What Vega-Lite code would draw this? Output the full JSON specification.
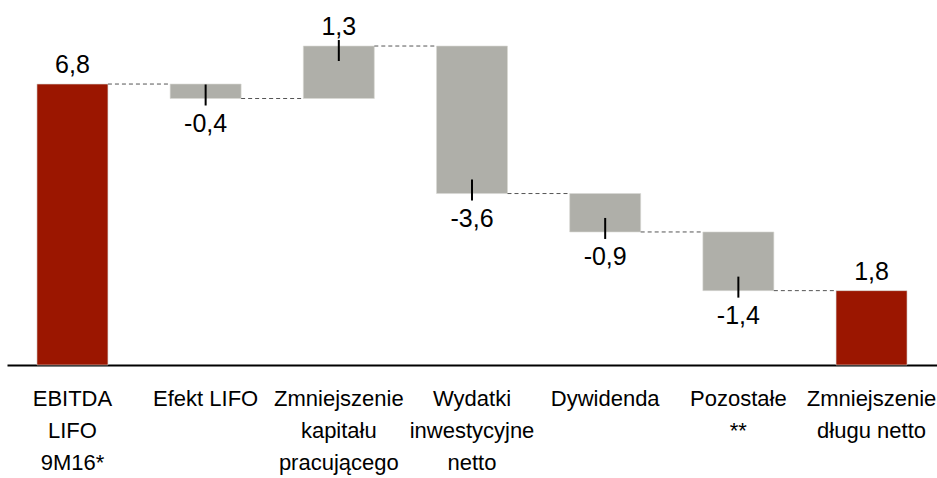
{
  "$schema": "https://vega.github.io/schema/vega-lite/v6.json",
  "autosize": {"type": "none"},
  "padding": {"left": 7, "top": 20, "right": 0, "bottom": 113},
  "width": 930,
  "height": 345,
  "background": "white",
  "title": {"text": "mld PLN", "anchor": "start", "frame": "group", "offset": 15, "baseline": "alphabetic", "fontSize": 24, "fontWeight": "normal", "font": "Liberation Sans", "color": "black", "dx": 3},
  "config": {"view": {"stroke": null}, "text": {"font": "Liberation Sans"}},
  "data": {"values": [
    {"cat": "EBITDA|LIFO|9M16*", "start": 0, "end": 6.8, "kind": "total", "label": "6,8", "next": "Efekt LIFO"},
    {"cat": "Efekt LIFO", "start": 6.8, "end": 6.45, "kind": "down", "label": "-0,4", "next": "Zmniejszenie|kapitału|pracującego"},
    {"cat": "Zmniejszenie|kapitału|pracującego", "start": 6.45, "end": 7.72, "kind": "up", "label": "1,3", "next": "Wydatki|inwestycyjne|netto"},
    {"cat": "Wydatki|inwestycyjne|netto", "start": 7.72, "end": 4.15, "kind": "down", "label": "-3,6", "next": "Dywidenda"},
    {"cat": "Dywidenda", "start": 4.15, "end": 3.22, "kind": "down", "label": "-0,9", "next": "Pozostałe|**"},
    {"cat": "Pozostałe|**", "start": 3.22, "end": 1.8, "kind": "down", "label": "-1,4", "next": "Zmniejszenie|długu netto"},
    {"cat": "Zmniejszenie|długu netto", "start": 0, "end": 1.8, "kind": "total", "label": "1,8", "next": null}
  ]},
  "encoding": {
    "x": {
      "field": "cat", "type": "nominal", "title": null,
      "scale": {
        "domain": ["EBITDA|LIFO|9M16*", "Efekt LIFO", "Zmniejszenie|kapitału|pracującego", "Wydatki|inwestycyjne|netto", "Dywidenda", "Pozostałe|**", "Zmniejszenie|długu netto"],
        "paddingInner": 0.467, "paddingOuter": 0.225
      },
      "axis": {
        "labelExpr": "split(datum.label, '|')",
        "labelAngle": 0, "ticks": false, "domainColor": "black", "domainWidth": 2,
        "labelFont": "Liberation Sans", "labelFontSize": 22, "labelColor": "black",
        "labelLineHeight": 32, "labelPadding": 23, "labelLimit": 0, "labelOverlap": false, "labelBound": false
      }
    }
  },
  "layer": [
    {
      "mark": {"type": "bar", "stroke": "#d8d8d4", "strokeWidth": 0.6},
      "encoding": {
        "y": {"field": "start", "type": "quantitative", "scale": {"domain": [0, 8.35], "nice": false, "zero": true}, "axis": null},
        "y2": {"field": "end"},
        "color": {"field": "kind", "type": "nominal", "scale": {"domain": ["total", "up", "down"], "range": ["#9B1600", "#AFAFA9", "#AFAFA9"]}, "legend": null}
      }
    },
    {
      "transform": [{"filter": "datum.next != null"}],
      "mark": {"type": "rule", "color": "#555555", "strokeWidth": 1, "strokeDash": [4, 3]},
      "encoding": {
        "x": {"field": "cat", "type": "nominal", "bandPosition": 1},
        "x2": {"field": "next", "bandPosition": 0},
        "y": {"field": "end", "type": "quantitative"}
      }
    },
    {
      "transform": [{"filter": "datum.kind == 'down'"}],
      "mark": {"type": "rule", "color": "black", "strokeWidth": 2, "yOffset": -14, "y2Offset": 7},
      "encoding": {
        "y": {"field": "end", "type": "quantitative"},
        "y2": {"field": "end"}
      }
    },
    {
      "transform": [{"filter": "datum.kind == 'up'"}],
      "mark": {"type": "rule", "color": "black", "strokeWidth": 2, "yOffset": 15, "y2Offset": -6},
      "encoding": {
        "y": {"field": "end", "type": "quantitative"},
        "y2": {"field": "end"}
      }
    },
    {
      "transform": [{"filter": "datum.kind != 'down'"}],
      "mark": {"type": "text", "baseline": "alphabetic", "dy": -11, "fontSize": 25, "color": "black"},
      "encoding": {
        "y": {"field": "end", "type": "quantitative"},
        "text": {"field": "label"}
      }
    },
    {
      "transform": [{"filter": "datum.kind == 'down'"}],
      "mark": {"type": "text", "baseline": "top", "dy": 13, "fontSize": 25, "color": "black"},
      "encoding": {
        "y": {"field": "end", "type": "quantitative"},
        "text": {"field": "label"}
      }
    }
  ]
}
